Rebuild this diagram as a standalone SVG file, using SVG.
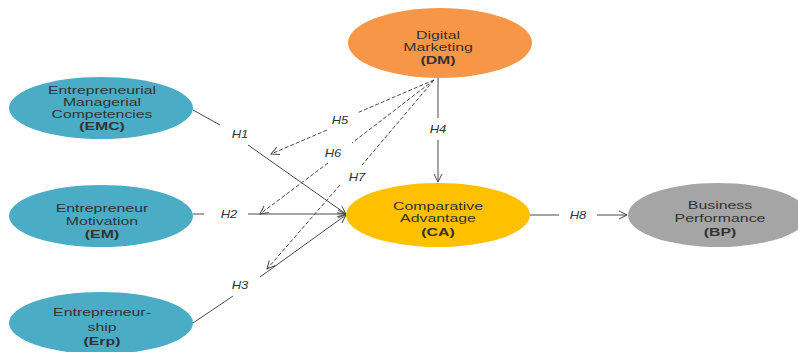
<svg xmlns="http://www.w3.org/2000/svg" width="798" height="352" viewBox="0 0 798 352">
<defs>
<marker id="arr" markerUnits="userSpaceOnUse" markerWidth="12" markerHeight="12" viewBox="-10 -6 12 12" refX="0" refY="0" orient="auto">
<path d="M-8,-4 L0,0 L-8,4" fill="none" stroke="#4a4a4a" stroke-width="1"/>
</marker>
<style>
.nt{font-family:"Liberation Sans",Arial,sans-serif;font-size:11.5px;fill:#333;text-anchor:middle}
.sm{font-size:10.2px}
.b{font-weight:bold}
.lb{font-family:"Liberation Sans",Arial,sans-serif;font-size:10px;font-style:italic;fill:#333;text-anchor:middle}
.ln{stroke:#4a4a4a;stroke-width:1;fill:none}
.ds{stroke:#4a4a4a;stroke-width:1;fill:none;stroke-dasharray:4 2}
</style>
</defs>
<rect width="798" height="352" fill="#fff"/>
<g id="connectors">
<line class="ln" x1="193" y1="110" x2="220" y2="125"/>
<line class="ln" x1="248" y1="145" x2="346" y2="214" marker-end="url(#arr)"/>
<line class="ln" x1="193" y1="214" x2="204" y2="214"/>
<line class="ln" x1="248" y1="214" x2="346" y2="214" marker-end="url(#arr)"/>
<line class="ln" x1="193" y1="323" x2="233" y2="296"/>
<line class="ln" x1="260" y1="277" x2="346" y2="215" marker-end="url(#arr)"/>
<line class="ln" x1="438" y1="78" x2="438" y2="118"/>
<line class="ln" x1="438" y1="140" x2="438" y2="182" marker-end="url(#arr)"/>
<line class="ds" x1="434" y1="80" x2="357" y2="113"/>
<line class="ds" x1="327" y1="130" x2="271" y2="154" marker-end="url(#arr)"/>
<line class="ds" x1="434" y1="80" x2="352" y2="143"/>
<line class="ds" x1="328" y1="163" x2="260" y2="214" marker-end="url(#arr)"/>
<line class="ds" x1="434" y1="80" x2="362" y2="165"/>
<line class="ds" x1="340" y1="185" x2="267" y2="269" marker-end="url(#arr)"/>
<line class="ln" x1="530" y1="215" x2="559" y2="215"/>
<line class="ln" x1="597" y1="215" x2="627" y2="215" marker-end="url(#arr)"/>
<g transform="translate(240,138) scale(1.3,1)"><text class="lb">H1</text></g>
<g transform="translate(229,218) scale(1.3,1)"><text class="lb">H2</text></g>
<g transform="translate(240,289) scale(1.3,1)"><text class="lb">H3</text></g>
<g transform="translate(438,133) scale(1.3,1)"><text class="lb">H4</text></g>
<g transform="translate(340,124) scale(1.3,1)"><text class="lb">H5</text></g>
<g transform="translate(333,157) scale(1.3,1)"><text class="lb">H6</text></g>
<g transform="translate(357,181) scale(1.3,1)"><text class="lb">H7</text></g>
<g transform="translate(578,219) scale(1.3,1)"><text class="lb">H8</text></g>
</g>
<g id="DM">
<ellipse cx="440" cy="43" rx="92" ry="35" fill="#f79646"/>
<g transform="translate(438,0) scale(1.38,1)">
<text class="nt" y="39">Digital</text>
<text class="nt" y="51.5">Marketing</text>
<text class="nt b" y="64">(DM)</text>
</g>
</g>
<g id="EMC">
<ellipse cx="101" cy="108" rx="92" ry="31" fill="#4bacc6"/>
<g transform="translate(102,0) scale(1.55,1)">
<text class="nt sm" y="94.5">Entrepreneurial</text>
<text class="nt sm" y="106.5">Managerial</text>
<text class="nt sm" y="118.5">Competencies</text>
<text class="nt sm b" y="130.5">(EMC)</text>
</g>
</g>
<g id="EM">
<ellipse cx="101" cy="216" rx="92" ry="31" fill="#4bacc6"/>
<g transform="translate(102,0) scale(1.38,1)">
<text class="nt" y="212">Entrepreneur</text>
<text class="nt" y="225">Motivation</text>
<text class="nt b" y="238">(EM)</text>
</g>
</g>
<g id="Erp">
<ellipse cx="101" cy="323" rx="92" ry="31" fill="#4bacc6"/>
<g transform="translate(102,0) scale(1.38,1)">
<text class="nt" y="316">Entrepreneur-</text>
<text class="nt" y="331">ship</text>
<text class="nt b" y="345">(Erp)</text>
</g>
</g>
<g id="CA">
<ellipse cx="438" cy="215" rx="92" ry="32" fill="#ffc000"/>
<g transform="translate(438,0) scale(1.38,1)">
<text class="nt" y="210">Comparative</text>
<text class="nt" y="222.5">Advantage</text>
<text class="nt b" y="236">(CA)</text>
</g>
</g>
<g id="BP">
<ellipse cx="718" cy="215" rx="90" ry="32" fill="#a5a5a5"/>
<g transform="translate(720,0) scale(1.38,1)">
<text class="nt" y="209">Business</text>
<text class="nt" y="222.5">Performance</text>
<text class="nt b" y="236">(BP)</text>
</g>
</g>
</svg>
